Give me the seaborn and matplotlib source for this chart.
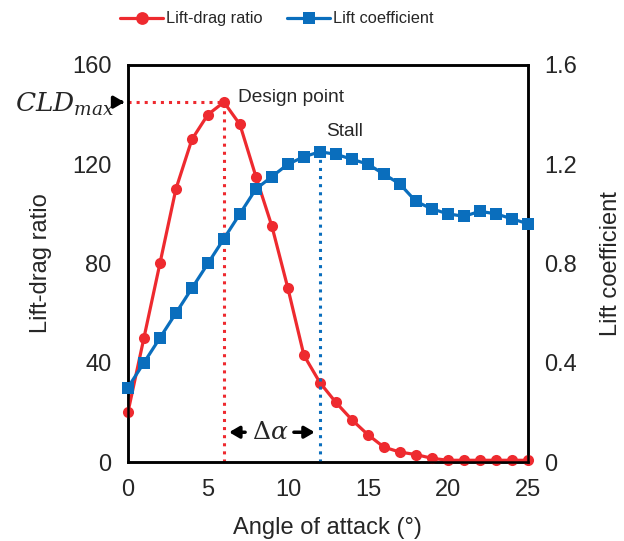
import matplotlib
matplotlib.use("Agg")
import matplotlib.pyplot as plt
import seaborn as sns
import pandas as pd

# data
angle = list(range(0, 26))
lift_drag = [20, 50, 80, 110, 130, 140, 145, 136, 115, 95, 70, 43, 32, 24, 17,
             11, 6, 4, 3, 1.5, 0.7, 0.7, 0.7, 0.7, 0.7, 0.7]
lift_coef = [0.30, 0.40, 0.50, 0.60, 0.70, 0.80, 0.90, 1.00, 1.10, 1.15, 1.20,
             1.23, 1.25, 1.24, 1.22, 1.20, 1.16, 1.12, 1.05, 1.02, 1.00, 0.99,
             1.01, 1.00, 0.98, 0.96]
design_aoa, design_cld = 6, 145
stall_aoa, stall_cl = 12, 1.25

df = pd.DataFrame({"angle": angle, "ld": lift_drag, "cl": lift_coef})

sns.set_style("white")
plt.rcParams['font.family'] = ['Liberation Sans', 'DejaVu Sans']

red = '#EE2A2F'
blue = '#0A6EBD'

fig = plt.figure(figsize=(6.24, 5.41), dpi=100)
ax = fig.add_axes([0.205, 0.146, 0.641, 0.734])
ax2 = ax.twinx()

sns.lineplot(data=df, x="angle", y="ld", ax=ax, color=red, marker='o',
             markersize=8, markeredgewidth=0, linewidth=2.3, label='Lift-drag ratio',
             legend=False, clip_on=False, zorder=3)
sns.lineplot(data=df, x="angle", y="cl", ax=ax2, color=blue, marker='s',
             markersize=8, markeredgewidth=0, linewidth=2.3, label='Lift coefficient',
             legend=False, clip_on=False, zorder=3)

# guide lines
ax.plot([0, design_aoa], [design_cld, design_cld], ls=':', color=red, lw=2.2, zorder=1)
ax.plot([design_aoa, design_aoa], [0, design_cld], ls=':', color=red, lw=2.2, zorder=1)
ax2.plot([stall_aoa, stall_aoa], [0, stall_cl], ls=':', color=blue, lw=2.2, zorder=1)

ax.set_xlim(0, 25)
ax.set_ylim(0, 160)
ax2.set_ylim(0, 1.6)
ax.set_xticks([0, 5, 10, 15, 20, 25])
ax.set_yticks([0, 40, 80, 120, 160])
ax2.set_yticks([0, 0.4, 0.8, 1.2, 1.6])
ax2.set_yticklabels(['0', '0.4', '0.8', '1.2', '1.6'])
ax.tick_params(labelsize=17, length=0, pad=12)
ax2.tick_params(labelsize=17, length=0, pad=12)
ax.set_xlabel('Angle of attack (°)', fontsize=17, labelpad=12)
ax.set_ylabel('Lift-drag ratio', fontsize=17, labelpad=14)
ax2.set_ylabel('Lift coefficient', fontsize=17, labelpad=16)
for a in (ax, ax2):
    for s in a.spines.values():
        s.set_visible(True)
        s.set_color('black')
        s.set_linewidth(1.8)

# annotations
ax.text(6.9, 147, 'Design point', fontsize=13.8, va='center', ha='left')
ax.text(12.4, 133, 'Stall', fontsize=13.8, va='center', ha='left')
ax.text(-0.85, design_cld - 1, '$CLD_{max}$', fontsize=19, va='center', ha='right',
        math_fontfamily='dejavuserif', clip_on=False)
ax.annotate('', xy=(-0.05, design_cld), xytext=(-0.65, design_cld),
            arrowprops=dict(arrowstyle='-|>,head_width=0.35,head_length=0.6',
                            color='black', lw=2.5), annotation_clip=False)
ax.annotate('', xy=(6.15, 12), xytext=(7.5, 12),
            arrowprops=dict(arrowstyle='-|>,head_width=0.35,head_length=0.6',
                            color='black', lw=2.5))
ax.annotate('', xy=(11.85, 12), xytext=(10.2, 12),
            arrowprops=dict(arrowstyle='-|>,head_width=0.35,head_length=0.6',
                            color='black', lw=2.5))
ax.text(8.9, 12, r'$\Delta\alpha$', fontsize=18, va='center', ha='center',
        math_fontfamily='dejavuserif')

h1, l1 = ax.get_legend_handles_labels()
h2, l2 = ax2.get_legend_handles_labels()
fig.legend(h1 + h2, l1 + l2, loc='center', bbox_to_anchor=(277 / 624, 0.965),
           ncol=2, frameon=False, fontsize=11.8, handlelength=2.6,
           handletextpad=0.2, columnspacing=1.5, markerscale=1.15)

fig.savefig('out.png', dpi=100)
